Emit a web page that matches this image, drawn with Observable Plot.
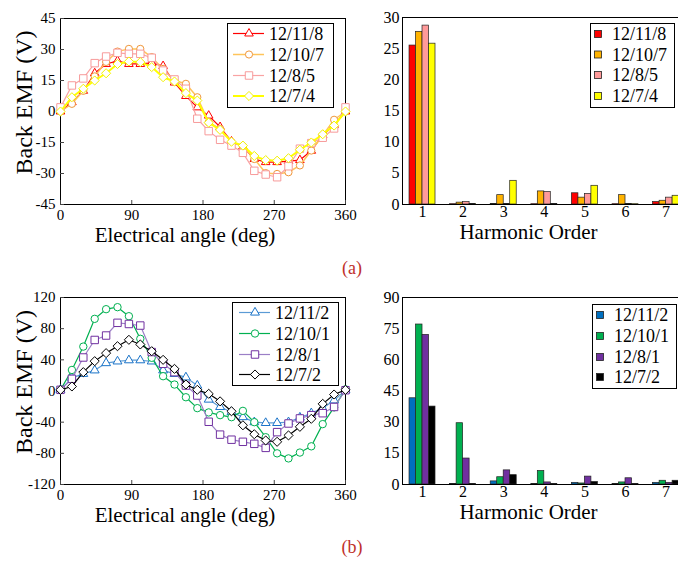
<!DOCTYPE html>
<html><head><meta charset="utf-8">
<script src="https://cdn.jsdelivr.net/npm/d3@7"></script>
<script src="https://cdn.jsdelivr.net/npm/@observablehq/plot@0.6"></script>
<style>
html,body{margin:0;padding:0;background:#fff;overflow:hidden;}
#root{position:relative;width:678px;height:561px;overflow:hidden;font-family:"Liberation Serif","Times New Roman",serif;background:#fff;}
.panel{position:absolute;}
.panel svg{max-width:none !important;}
#overlay{position:absolute;left:0;top:0;pointer-events:none;}
</style></head><body><div id="root"></div>
<script>
// ---------- data ----------
const angles = [0,14.4,28.8,43.2,57.6,72,86.4,100.8,115.2,129.6,144,158.4,172.8,187.2,201.6,216,230.4,244.8,259.2,273.6,288,302.4,316.8,331.2,345.6,360];
const angleTicks = [0,90,180,270,360];
const emfTicksA = [-45,-30,-15,0,15,30,45];
const emfTicksB = [-120,-80,-40,0,40,80,120];

const labelsA = ["12/11/8","12/10/7","12/8/5","12/7/4"];
const labelsB = ["12/11/2","12/10/1","12/8/1","12/7/2"];

const emf_12_11_8 = [0,4.5,10,18.5,23,24.5,23,23,23.5,22,14,7.5,2,-2,-7.5,-14.5,-17,-23,-24.5,-24.5,-24,-23.5,-19,-11.5,-6.5,0];
const emf_12_10_7 = [0,3.7,10,17,24,29,30.3,30.3,26.3,20.6,15,13.4,6.9,-5.2,-8.4,-14.8,-16.8,-23,-29.8,-30.2,-29.4,-26.1,-18.9,-11.6,-4,0];
const emf_12_8_5  = [2,12.6,16,23.4,26.6,28.4,27.9,27.9,26,19.8,15.5,11,-3.5,-9.5,-13.7,-16.5,-20,-28.7,-30.5,-31.8,-26.5,-18,-15.3,-12.7,-8.2,2];
const emf_12_7_4  = [0,6.9,11,15,18.5,23,24.2,23.9,21.5,16.6,14.5,8.9,5.3,-5.4,-8.9,-14.6,-16.5,-21.5,-23.5,-23.8,-22.6,-18.5,-15,-11,-6.8,0];

const emf_12_11_2 = [1.5,16.9,22,26.5,35.8,38,39.5,39.5,38,26.5,22,17.5,7,-11,-20.5,-27,-33.5,-40,-41,-41,-40,-34,-28.5,-22,-12,1];
const emf_12_10_1 = [1.5,27,57,92.6,105,107.6,96,67,42.6,19,8.3,-8,-22,-27.5,-31,-33.6,-25.5,-40,-59.3,-80,-86.5,-79,-71,-42.5,-21,2];
const emf_12_8_1  = [1.5,15.6,43,65.5,71.2,87.5,86,84,50,34.9,24.2,7,-5.8,-39.5,-56,-62.5,-65.2,-67.8,-73,-52.8,-41.7,-35.2,-31,-28.5,-20.5,1];
const emf_12_7_2  = [1.5,5.8,24.2,38.3,48.6,57.5,65.7,59.7,51.1,40,28.4,8.3,1.5,-3.6,-13.3,-26,-44,-55.5,-63.5,-65.2,-57,-46,-35.7,-16.5,-4.5,1.5];

const harmonics = [1,2,3,4,5,6,7];
const harmTicksA = [0,5,10,15,20,25,30];
const harmTicksB = [0,15,30,45,60,75,90];
const harm_12_11_8 = [25.5,0.05,0.1,0.05,1.8,0.05,0.4];
const harm_12_10_7 = [27.7,0.3,1.5,2.1,1.1,1.5,0.6];
const harm_12_8_5  = [28.7,0.4,0.1,2.0,1.7,0.1,1.1];
const harm_12_7_4  = [25.8,0.1,3.8,0.1,3.0,0.05,1.4];
const harm_12_11_2 = [41.5,0.3,1.5,0.3,0.8,0.2,0.8];
const harm_12_10_1 = [77,29.5,3.5,6.5,0.5,1.0,1.8];
const harm_12_8_1  = [72,12.5,6.8,1.0,3.8,3.0,0.8];
const harm_12_7_2  = [37.5,0.3,4.5,0.2,1.2,0.2,1.8];

// ---------- styles ----------
const styleA = [
  {line:"#ff0000", marker:"#ff0000", bar:"#ff0000", symbol:"triangle", r:3.2, lw:1.2},
  {line:"#ffc45a", marker:"#f0963a", bar:"#ffb300", symbol:"circle", r:3.6, lw:1.5},
  {line:"#f9a3a3", marker:"#f79a9a", bar:"#ff9a9a", symbol:"square", r:4.2, lw:1.2},
  {line:"#ffff00", marker:"#f2f200", bar:"#ffff00", symbol:"diamond2", r:4.1, lw:2}
];
const styleB = [
  {line:"#5b9bd5", marker:"#1a73c8", bar:"#0070c0", symbol:"triangle", r:3.3, lw:1.2},
  {line:"#00b050", marker:"#00b050", bar:"#00b050", symbol:"circle", r:3.7, lw:1.2},
  {line:"#9b7fc6", marker:"#7030a0", bar:"#7030a0", symbol:"square", r:4.2, lw:1.2},
  {line:"#000000", marker:"#000000", bar:"#000000", symbol:"diamond2", r:4.1, lw:1.2}
];

const FONT = "Liberation Serif, Times New Roman, serif";
const root = document.getElementById("root");

function place(el, left, top, w) {
  const d = document.createElement("div");
  d.className = "panel";
  d.style.left = left + "px";
  d.style.top = top + "px";
  d.style.width = w + "px";
  el.style.maxWidth = "none";
  d.appendChild(el);
  root.appendChild(d);
}

function lineChart(seriesValues, styles, yDomain, yTicks, top, height) {
  const W = 360, mL = 60, mR = 15, mT = 18, mB = 46;
  const pw = W - mL - mR, ph = height - mT - mB;
  const marks = [
    Plot.frame({stroke:"#000", strokeWidth:1}),
    Plot.tickY(yTicks, {y: d => d, insetRight: pw - 4, stroke:"#444"}),
    Plot.tickX(angleTicks, {x: d => d, insetTop: ph - 4, stroke:"#444"}),
    Plot.axisY({ticks: yTicks, tickSize: 0, tickPadding: 5, fontSize: 15, label: null, tickFormat: d => String(d)}),
    Plot.axisX({ticks: angleTicks, tickSize: 0, tickPadding: 5, fontSize: 15, label: null, tickFormat: d => String(d)}),
    Plot.text(["Electrical angle (deg)"], {frameAnchor:"bottom", dy: 37, dx: -18, fontSize: 21, fill:"#000"}),
    Plot.text(["Back EMF (V)"], {frameAnchor:"left", textAnchor:"middle", dx: -36, dy: -9, rotate: -90, fontSize: 24, fill:"#000"})
  ];
  seriesValues.forEach((vals, i) => {
    const s = styles[i];
    const data = angles.map((a, j) => ({a, v: vals[j]}));
    marks.push(Plot.line(data, {x:"a", y:"v", stroke: s.line, strokeWidth: s.lw}));
    marks.push(Plot.dot(data, {x:"a", y:"v", symbol: s.symbol, r: s.r, stroke: s.marker, fill:"white", strokeWidth: 1}));
  });
  const p = Plot.plot({
    width: W, height, marginLeft: mL, marginRight: mR, marginTop: mT, marginBottom: mB,
    x: {domain: [0, 360]}, y: {domain: yDomain},
    style: {fontFamily: FONT, color: "#000", background: "transparent", overflow: "visible"},
    marks
  });
  place(p, 0, top, W);
}

function barChart(seriesValues, styles, yDomain, yTicks, top, height, mT) {
  const W = 330, mL = 32, mR = 0, mB = 46;
  const bw = 0.16;
  const marks = [];
  seriesValues.forEach((vals, i) => {
    const data = harmonics.map((h, j) => ({h, v: vals[j]}));
    marks.push(Plot.rectY(data, {x1: d => d.h + (i - 2) * bw, x2: d => d.h + (i - 1) * bw, y1: 0, y2: "v",
      fill: styles[i].bar, stroke: "#222", strokeWidth: 0.7}));
  });
  marks.push(Plot.frame({stroke:"#000", strokeWidth:1}));
  marks.push(Plot.axisY({ticks: yTicks, tickSize: 0, tickPadding: 3, fontSize: 16, label: null, tickFormat: d => String(d)}));
  marks.push(Plot.axisX({ticks: harmonics, tickSize: 0, tickPadding: 1, fontSize: 16, label: null, tickFormat: d => String(d)}));
  marks.push(Plot.text(["Harmonic Order"], {frameAnchor:"bottom", dy: 34, dx: -23, fontSize: 21, fill:"#000"}));
  const p = Plot.plot({
    width: W, height, marginLeft: mL, marginRight: mR, marginTop: mT, marginBottom: mB,
    x: {domain: [0.507, 7.847]}, y: {domain: yDomain},
    style: {fontFamily: FONT, color: "#000", background: "transparent", overflow: "visible"},
    marks
  });
  place(p, 370, top, W);
}

lineChart([emf_12_11_8, emf_12_10_7, emf_12_8_5, emf_12_7_4], styleA, [-45, 45], emfTicksA, 0, 250);
lineChart([emf_12_11_2, emf_12_10_1, emf_12_8_1, emf_12_7_2], styleB, [-120, 120], emfTicksB, 279, 251);
barChart([harm_12_11_8, harm_12_10_7, harm_12_8_5, harm_12_7_4], styleA, [0, 30], harmTicksA, 0, 250, 17);
barChart([harm_12_11_2, harm_12_10_1, harm_12_8_1, harm_12_7_2], styleB, [0, 90], harmTicksB, 279, 251, 18);

// ---------- legends & panel tags ----------
const svg = d3.select(root).append("svg").attr("id","overlay").attr("width",678).attr("height",561)
  .style("font-family", FONT);

function lineLegend(x, y, w, h, rows, x0, x1, xm, xt, labels, styles) {
  svg.append("rect").attr("x", x + 0.5).attr("y", y + 0.5).attr("width", w).attr("height", h)
    .attr("fill","white").attr("stroke","#000").attr("stroke-width",1);
  labels.forEach((lab, i) => {
    const s = styles[i], yy = rows[i];
    svg.append("line").attr("x1", x0).attr("x2", x1).attr("y1", yy).attr("y2", yy)
      .attr("stroke", s.line).attr("stroke-width", s.lw);
    const sym = {triangle: d3.symbolTriangle, circle: d3.symbolCircle, square: d3.symbolSquare, diamond2: d3.symbolDiamond2}[s.symbol];
    svg.append("path").attr("d", d3.symbol(sym, Math.PI * s.r * s.r)()).attr("transform", `translate(${xm},${yy})`)
      .attr("fill","white").attr("stroke", s.marker).attr("stroke-width", 1);
    svg.append("text").attr("x", xt).attr("y", yy).attr("dy","0.35em").attr("font-size", 18).text(lab);
  });
}
function barLegend(x, y, w, h, rows, xs, xt, labels, styles) {
  svg.append("rect").attr("x", x + 0.5).attr("y", y + 0.5).attr("width", w).attr("height", h)
    .attr("fill","white").attr("stroke","#000").attr("stroke-width",1);
  labels.forEach((lab, i) => {
    const yy = rows[i];
    svg.append("rect").attr("x", xs - 3.5).attr("y", yy - 3.5).attr("width", 7).attr("height", 7)
      .attr("fill", styles[i].bar).attr("stroke","#222").attr("stroke-width", 0.8);
    svg.append("text").attr("x", xt).attr("y", yy).attr("dy","0.35em").attr("font-size", 18).text(lab);
  });
}
lineLegend(227, 23, 106, 84, [33.5, 54.5, 75.5, 96], 233, 264, 249, 269, labelsA, styleA);
lineLegend(232, 302, 106, 83, [312.5, 333.5, 354.5, 374.5], 239, 270, 255, 275, labelsB, styleB);
barLegend(590, 23, 84, 84, [34, 54.5, 75, 96], 598, 612, labelsA, styleA);
barLegend(592, 304, 84, 84, [315, 336, 357, 377], 600, 614, labelsB, styleB);

svg.append("text").attr("x", 352).attr("y", 268).attr("dy","0.35em").attr("text-anchor","middle")
  .attr("font-size", 18).attr("fill", "#c0302a").text("(a)");
svg.append("text").attr("x", 352).attr("y", 547).attr("dy","0.35em").attr("text-anchor","middle")
  .attr("font-size", 18).attr("fill", "#c0302a").text("(b)");
</script>
</body></html>
